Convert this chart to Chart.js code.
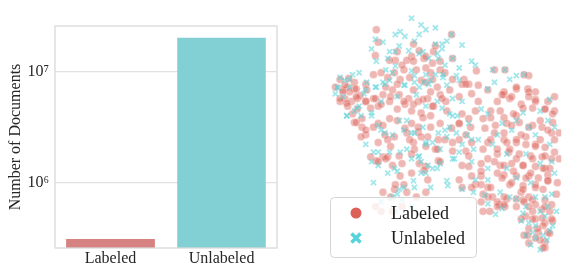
<!DOCTYPE html>
<html>
<head>
<meta charset="utf-8">
<script src="https://cdn.jsdelivr.net/npm/chart.js@4"></script>
<style>
  body{margin:0;background:#fff;width:567px;height:264px;overflow:hidden;position:relative}
  #barBox{position:absolute;left:0;top:0;width:290px;height:264px}
  #tsneBox{position:absolute;left:320px;top:0;width:247px;height:264px}
</style>
</head>
<body>
<div id="barBox"><canvas id="bars" width="290" height="264"></canvas></div>
<div id="tsneBox"><canvas id="tsne" width="247" height="264"></canvas></div>
<script>
// bar chart data
const categories = ['Labeled', 'Unlabeled']
const docCounts = [3.2e5, 2.07e7]
const yTickValues = [1e6, 1e7]
const yTickLabels = ['10⁶', '10⁷']

// t-SNE points (x, y in picture pixels, y down)
const labeledPts = [
 // top
 [373,25],[375,38],[418,47],[423,55],[410,53],[405,57],[433,48],[435,42],[393,57],[412,58],[425,53],[432,60],[440,67],[387,57],[402,67],[415,67],[425,65],[400,62],[372,52],[395,48],[412,40],[440,58],[445,70],[453,55],[452,30],
 [370,72],[378,70],[392,70],[398,77],[408,75],[420,78],[432,77],[362,82],[343,85],[338,88],[350,87],[385,75],[430,70],[395,82],[383,85],[425,80],
 [478,68],[497,67],[508,67],[533,73],[528,72],[520,87],[532,87],[540,90],[507,93],[473,92],[470,82],[465,77],[463,82],[453,77],[467,82],[480,83],
 // left lobe
 [335,77],[340,83],[345,90],[350,80],[352,87],[340,97],[335,100],[347,100],[353,97],[353,108],[363,88],[362,100],[370,97],[367,107],[380,93],[390,88],[387,100],[397,93],[407,97],[403,103],[412,88],[417,100],[427,97],[430,90],[437,85],[440,93],[338,90],[344,76],[356,94],[343,105],[330,85],[348,113],[358,118],[375,105],[395,108],[410,110],[420,112],[433,105],[446,100],[450,88],[460,95],
 [335,97],[342,102],[352,95],[362,100],[372,97],[378,103],[388,95],[402,100],[412,103],[422,98],[432,105],[442,97],
 // middle
 [350,122],[358,127],[375,123],[387,118],[395,120],[410,123],[422,117],[417,132],[427,137],[405,133],[392,137],[382,135],[362,135],[375,143],[388,147],[412,143],[425,147],[435,150],[438,140],
 [352,122],[362,130],[357,137],[370,127],[380,125],[403,128],[417,127],[420,137],[430,127],[440,123],[452,128],[460,123],[472,127],[460,140],[453,152],[467,152],[473,143],[445,140],[437,150],[430,115],[413,150],[408,140],[385,140],
 [367,158],[373,162],[380,158],[385,158],[397,157],[410,155],[418,165],[398,178],[392,192],[402,187],[425,168],[438,162],[375,163],[383,160],[390,167],[393,187],[410,175],[423,172],[427,182],[440,163],[400,165],
 [447,110],[463,113],[460,123],[467,135],[453,143],[470,157],[463,167],
 [460,182],[463,190],[477,187],[483,178],[490,190],[473,190],[483,173],[473,178],[483,187],[493,190],
 // right cluster
 [490,88],[507,90],[520,85],[513,97],[533,90],[540,98],[553,100],[550,108],[560,110],[537,107],[525,103],[500,100],[493,110],[477,110],[507,117],[520,115],
 [505,93],[515,95],[533,95],[540,100],[550,108],[558,113],[527,107],[517,113],[503,110],[493,117],[510,123],[523,122],[537,125],[547,127],[557,133],[497,133],[490,143],[507,140],[520,143],[530,137],[540,145],[550,148],
 [500,155],[512,153],[523,155],[535,157],[547,158],[557,160],[503,167],[515,165],[527,167],[540,168],[550,170],[507,177],[520,178],[533,178],[543,180],[553,177],[513,187],[527,188],[540,187],[553,183],
 [487,128],[493,140],[500,150],[507,133],[513,150],[520,160],[527,167],[517,173],[507,167],[497,163],[537,160],[540,147],[550,157],[548,170],[553,183],[560,153],[533,127],[553,130],[565,133],[485,118],[498,125],[515,125],[525,135],[545,120],[558,122],[530,145],[520,140],[510,143],[485,150],[490,160],[505,180],[515,185],[530,180],[540,190],[525,195],[535,175],[545,140],[560,140],[480,100],[470,118],[483,165],[560,95],[555,170],[565,160],[500,175],[470,168],[563,185],[562,197],[548,192],[527,192],
 // lower left arm
 [380,195],[388,200],[372,210],[378,215],[405,195],[415,200],[400,210],[425,195],[390,215],
 // lower right
 [485,197],[490,200],[483,205],[502,208],[508,210],[492,215],[510,202],[520,202],[485,215],
 [495,200],[500,205],[507,200],[500,210],[507,208],[527,203],[533,200],[540,208],[547,213],[530,220],[540,223],[550,227],[533,233],[543,237],[553,237],[550,247],[550,253],[520,210],[537,215],[545,245],[558,225],[528,240],[548,230],[555,215],
 [528,205],[537,203],[550,203],[533,210],[550,210],[557,208],[525,223],[537,223],[547,222],[557,223],[542,233],[555,238],[532,240],[540,243],[548,253],[533,248]
]
const unlabeledPts = [
 // top
 [410,13],[420,20],[425,25],[435,23],[393,30],[398,27],[403,32],[380,38],[372,35],[368,45],[373,58],[387,48],[393,48],[397,42],[407,47],[413,37],[418,30],[422,48],[435,40],[438,55],[442,40],[383,67],[393,63],[413,73],[425,72],[435,72],
 [452,30],[447,37],[442,45],[463,41],[473,58],[477,62],[495,67],[508,67],[513,77],[520,73],[528,72],[497,80],[490,87],[457,73],[460,78],[447,83],[443,72],[453,55],[437,50],[418,50],[385,55],[428,55],[445,62],[410,68],[390,70],[460,65],
 // left lobe
 [335,75],[345,77],[355,70],[332,85],[362,88],[372,85],[382,82],[402,83],[418,85],[428,82],
 [333,86],[340,78],[348,72],[342,115],[350,110],[373,85],[363,80],[380,80],[387,78],[403,83],[413,80],[423,80],[430,78],[443,75],[442,107],[453,97],[450,113],[463,100],[338,95],[345,85],[360,92],[368,115],[378,100],[395,95],[415,93],[425,105],[437,100],[330,92],[355,105],
 [342,115],[353,107],[357,115],[368,112],[375,125],[382,133],[397,120],[402,130],[413,133],[425,143],[432,143],[422,127],[438,133],
 // middle
 [375,153],[368,163],[392,170],[395,173],[405,150],[418,157],[412,183],[425,175],[432,170],[440,165],[402,190],[395,197],
 [362,145],[370,153],[375,167],[387,153],[398,153],[417,158],[420,163],[427,167],[437,170],[447,183],[448,188],[463,192],[477,182],[490,182],[410,160],[413,190],[397,192],[390,200],[400,203],[410,210],[430,190],[378,130],[390,135],[405,120],[425,145],[445,130],[458,115],[468,135],[455,160],[440,150],[475,150],[410,133],[385,175],[370,185],[378,205],[393,215],[420,175],
 [453,115],[450,127],[457,133],[447,137],[463,145],[473,140],[460,153],[453,160],[473,163],[470,123],
 // right cluster
 [483,108],[490,113],[505,123],[527,112],[555,98],[533,127],[553,120],[560,127],[480,140],[495,145],[510,155],[530,155],[545,165],[560,175],[520,180],[500,135],[515,130],[540,135],[555,145],[490,170],[557,163],[520,120],[545,110],[535,185],[510,170],
 // lower right
 [503,195],[513,200],[520,202],[487,198],[475,195],[490,207],[505,212],[498,218],
 [527,217],[533,227],[540,230],[550,220],[553,210],[530,240],[540,243],[557,197],[550,200],[535,250],[545,255],[525,225],[555,235],[562,215],[540,200],[545,215],[537,237],[548,240],[530,210],[558,230],[552,245]
]

const serif = 'Liberation Serif'
const ink = '#262626'

// light frame around the bar plot
const framePlugin = {
  id: 'frame',
  afterDraw(chart){
    const a = chart.chartArea, c = chart.ctx
    c.save()
    c.strokeStyle = '#d9d9d9'
    c.lineWidth = 1.3
    c.strokeRect(a.left, a.top, a.right - a.left, a.bottom - a.top)
    c.restore()
  }
}

new Chart(document.getElementById('bars'), {
  type: 'bar',
  data: {
    labels: categories,
    datasets: [{
      data: docCounts,
      backgroundColor: ['rgb(214,130,128)', 'rgb(130,208,212)'],
      borderColor: 'rgba(255,255,255,0.6)',
      borderWidth: {top: 1, left: 0, right: 0, bottom: 0},
      barPercentage: 0.8,
      categoryPercentage: 1
    }]
  },
  options: {
    responsive: false,
    animation: false,
    layout: {padding: {top: 26, right: 13, left: 0, bottom: 0}},
    plugins: {legend: {display: false}, tooltip: {enabled: false}},
    scales: {
      x: {
        grid: {display: false, drawTicks: false, tickLength: 0},
        border: {display: false},
        ticks: {color: ink, font: {family: serif, size: 16}, padding: 1},
        afterFit: s => { s.height = 16 }
      },
      y: {
        type: 'logarithmic',
        min: 2.6e5,
        max: 2.59e7,
        afterBuildTicks: s => { s.ticks = yTickValues.map(v => ({value: v})) },
        ticks: {
          color: ink,
          font: {family: serif, size: 16},
          padding: 6,
          callback: v => yTickLabels[yTickValues.indexOf(v)]
        },
        grid: {color: '#e2e2e2', lineWidth: 1.3, drawTicks: false},
        border: {display: false},
        title: {display: true, text: 'Number of Documents', color: ink, font: {family: serif, size: 16}, padding: {top: 6, bottom: 0}},
        afterFit: s => { s.width = 55 }
      }
    }
  },
  plugins: [framePlugin]
})

// legend box drawn inside the scatter
const tsneLegend = {
  id: 'tsneLegend',
  afterDraw(chart){
    const c = chart.ctx
    const x0 = 10, y0 = 197, w = 146, h = 60, r = 4
    c.save()
    c.beginPath()
    c.roundRect(x0 + 0.5, y0 + 0.5, w, h, r)
    c.fillStyle = 'rgba(255,255,255,0.8)'
    c.fill()
    c.strokeStyle = '#d5d5d5'
    c.lineWidth = 1
    c.stroke()
    // red dot
    c.beginPath()
    c.arc(36, 213, 5.5, 0, Math.PI * 2)
    c.fillStyle = '#dd6058'
    c.fill()
    // cyan X
    c.strokeStyle = '#57d3db'
    c.lineWidth = 3.6
    c.lineCap = 'butt'
    c.beginPath()
    c.moveTo(31.5, 233.5); c.lineTo(40.5, 242.5)
    c.moveTo(40.5, 233.5); c.lineTo(31.5, 242.5)
    c.stroke()
    c.fillStyle = '#1a1a1a'
    c.font = '18px "' + serif + '"'
    c.textBaseline = 'alphabetic'
    c.fillText('Labeled', 71, 219)
    c.fillText('Unlabeled', 71, 244)
    c.restore()
  }
}

const toXY = pts => pts.map(p => ({x: p[0], y: p[1]}))

new Chart(document.getElementById('tsne'), {
  type: 'scatter',
  data: {
    datasets: [
      {
        label: 'Unlabeled',
        data: toXY(unlabeledPts),
        pointStyle: 'crossRot',
        pointRadius: 3.6,
        borderColor: 'rgba(87,211,219,0.55)',
        borderWidth: 1.8
      },
      {
        label: 'Labeled',
        data: toXY(labeledPts),
        pointStyle: 'circle',
        pointRadius: 3.9,
        backgroundColor: 'rgba(219,95,87,0.45)',
        borderColor: 'rgba(255,255,255,0.5)',
        borderWidth: 0.6
      }
    ]
  },
  options: {
    responsive: false,
    animation: false,
    layout: {padding: 0},
    plugins: {legend: {display: false}, tooltip: {enabled: false}},
    scales: {
      x: {type: 'linear', display: false, min: 320, max: 567},
      y: {type: 'linear', display: false, min: 0, max: 264, reverse: true}
    }
  },
  plugins: [tsneLegend]
})
</script>
</body>
</html>
